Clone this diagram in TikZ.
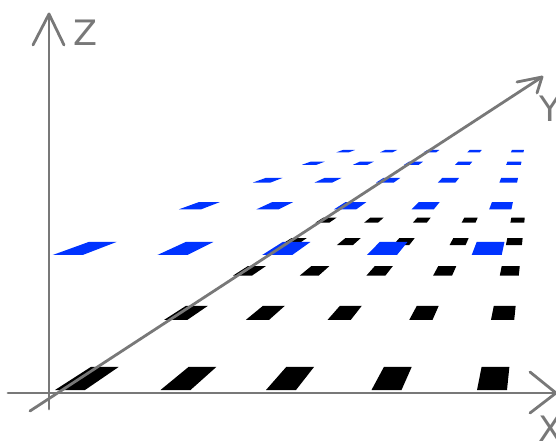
\documentclass[tikz,border=0pt]{standalone}
\usepackage{fontspec}
\setmainfont{DejaVu Sans}
\begin{document}
\begin{tikzpicture}[x=1pt,y=-1pt]
\definecolor{axisgray}{RGB}{120,120,120}
\definecolor{sqblue}{RGB}{0,51,255}
\tikzset{
  axisline/.style={draw=axisgray,line width=2.8pt,line cap=round,line join=round},
  axislabel/.style={text=axisgray,font=\fontsize{35}{35}\selectfont,inner sep=0pt},
}
\clip (0,0) rectangle (556,443);
% vanishing point (539,79); floor offset 311, blue plane offset 176
% floor squares
\foreach \j in {0,...,4}{
  \foreach \k in {0,...,4}{
    \pgfmathsetmacro\ra{1+0.291*\j}
    \pgfmathsetmacro\rb{\ra+0.08}
    \pgfmathsetmacro\xa{-484+105.5*\k}
    \pgfmathsetmacro\xb{\xa+30}
    \fill[black] ({539+\xa/\ra},{79+311/\ra}) -- ({539+\xb/\ra},{79+311/\ra})
      -- ({539+\xb/\rb},{79+311/\rb}) -- ({539+\xa/\rb},{79+311/\rb}) -- cycle;
  }
}
% raised plane squares
\foreach \j in {0,...,4}{
  \foreach \k in {0,...,4}{
    \pgfmathsetmacro\ra{1+0.35*\j}
    \pgfmathsetmacro\rb{\ra+0.08}
    \pgfmathsetmacro\xa{-486.3+104.75*\k}
    \pgfmathsetmacro\xb{\xa+30}
    \fill[sqblue] ({539+\xa/\ra},{79+176/\ra}) -- ({539+\xb/\ra},{79+176/\ra})
      -- ({539+\xb/\rb},{79+176/\rb}) -- ({539+\xa/\rb},{79+176/\rb}) -- cycle;
  }
}
% axes
\coordinate (xs) at (8,393);
\coordinate (xt) at (556,393);
\coordinate (xw1) at (530,372);
\coordinate (xw2) at (530,413);
\coordinate (zs) at (49,409);
\coordinate (zt) at (49,14);
\coordinate (zw1) at (33,45);
\coordinate (zw2) at (64,45);
\coordinate (ys) at (30,411);
\coordinate (yt) at (542,77);
\coordinate (yw1) at (517,82);
\coordinate (yw2) at (537,93);
\draw[axisline] (xs) -- (xt);
\draw[axisline] (xw1) -- (xt) -- (xw2);
\draw[axisline] (zs) -- (zt);
\draw[axisline] (zw1) -- (zt) -- (zw2);
\draw[axisline] (ys) -- (yt);
\draw[axisline] (yw1) -- (yt) -- (yw2);
\node[axislabel] (zl) at (85,33) {Z};
\node[axislabel] (yl) at (550,108.5) {Y};
\node[axislabel] (xl) at (550,429) {X};
\end{tikzpicture}
\end{document}
